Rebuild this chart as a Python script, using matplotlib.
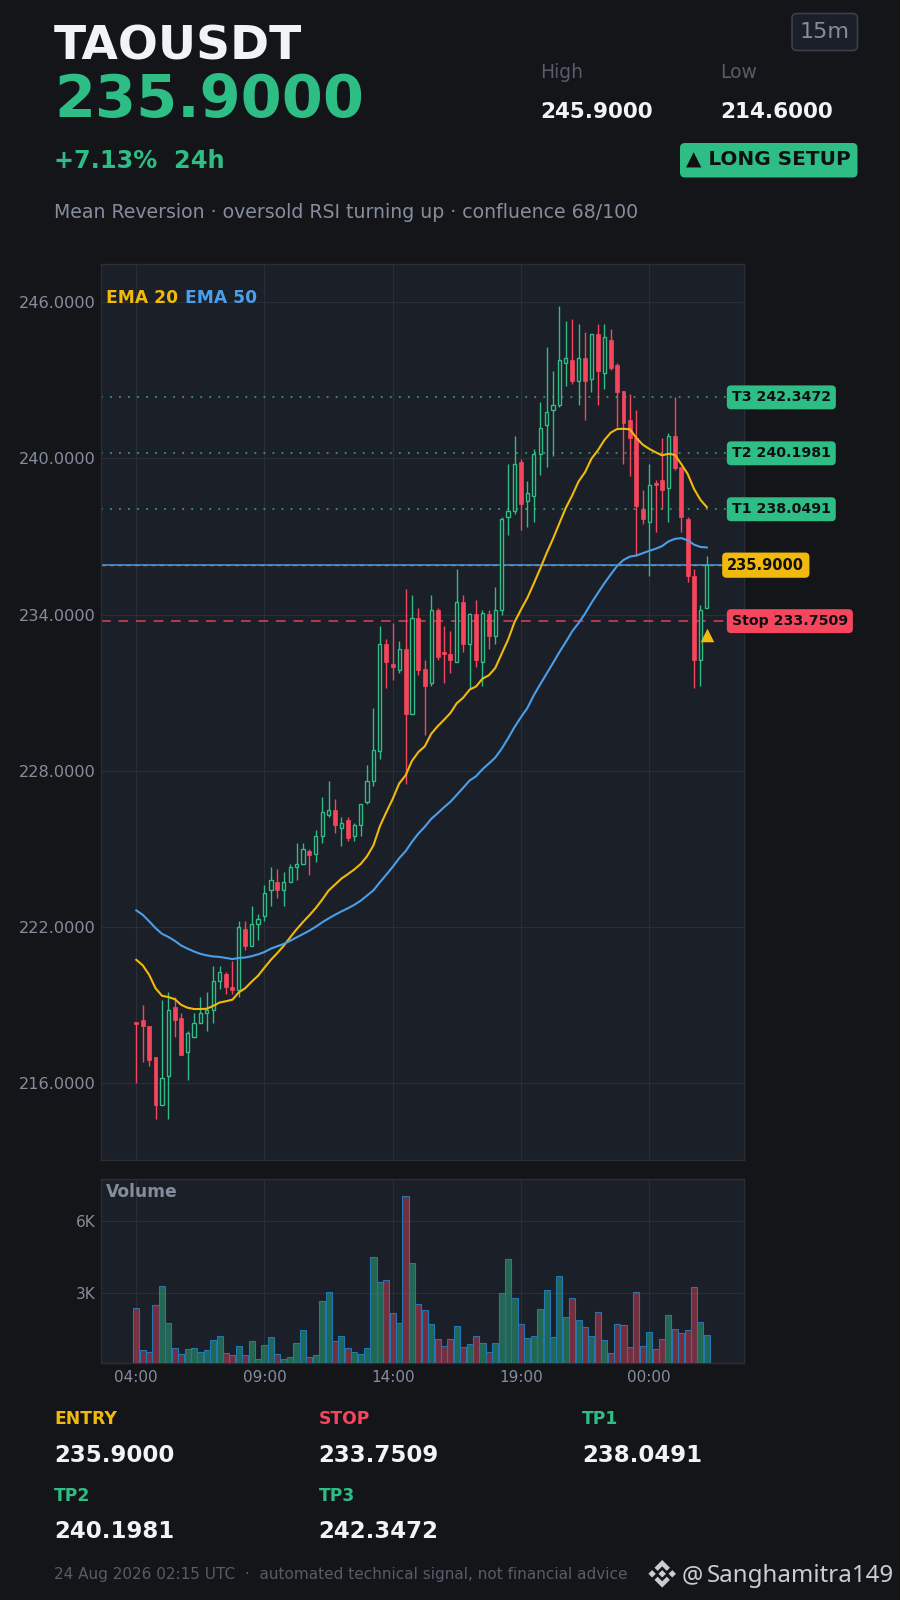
import numpy as np
import matplotlib
matplotlib.use("Agg")
import matplotlib.pyplot as plt
from matplotlib.patches import FancyBboxPatch, Polygon

# Candles, 15m, oldest first
opens = [218.31, 218.44, 218.21, 217.00, 215.18, 216.29, 218.94, 218.51, 217.19, 217.79,
         218.31, 218.69, 218.81, 219.92, 220.21, 219.69, 219.59, 221.92, 221.29, 222.12,
         222.41, 223.42, 223.74, 223.41, 223.73, 224.29, 224.42, 224.92, 224.81, 225.50,
         226.29, 226.50, 225.81, 226.12, 225.50, 225.92, 226.81, 227.62, 228.77, 232.88,
         232.09, 231.88, 232.69, 230.18, 233.88, 231.90, 231.37, 234.19, 232.50, 232.50,
         232.18, 234.50, 232.88, 234.01, 232.18, 234.01, 233.18, 234.19, 237.74, 237.99,
         239.87, 238.36, 238.55, 240.18, 241.28, 241.87, 242.05, 243.67, 243.79, 242.97,
         243.87, 243.05, 244.79, 243.29, 244.56, 243.58, 242.58, 241.49, 240.79, 238.05,
         237.56, 239.00, 239.18, 238.87, 240.88, 239.69, 237.68, 235.49, 232.24, 234.24]
closes = [218.26, 218.18, 216.90, 215.17, 216.19, 218.81, 218.41, 217.09, 217.92, 218.31,
          218.69, 218.82, 219.91, 220.29, 219.68, 219.59, 222.00, 221.29, 222.12, 222.31,
          223.31, 223.81, 223.41, 223.73, 224.31, 224.42, 225.00, 224.78, 225.49, 226.42,
          226.49, 225.91, 226.00, 225.41, 225.92, 226.73, 227.60, 228.81, 232.88, 232.18,
          231.99, 232.69, 230.18, 233.88, 231.86, 231.26, 234.19, 232.36, 232.47, 232.24,
          234.50, 232.87, 234.01, 232.24, 234.08, 233.18, 234.19, 237.68, 237.99, 239.79,
          238.24, 238.68, 240.18, 241.18, 241.79, 242.06, 243.79, 243.87, 242.97, 243.87,
          242.97, 244.79, 243.36, 244.68, 243.47, 242.55, 241.36, 240.79, 238.17, 237.67,
          238.99, 238.97, 238.78, 240.88, 239.65, 237.74, 235.47, 232.24, 234.18, 235.90]
highs = [218.31, 218.99, 218.21, 217.00, 219.18, 219.50, 219.31, 218.69, 217.99, 218.69,
         219.31, 219.49, 220.49, 220.49, 220.29, 220.68, 222.22, 222.22, 222.79, 222.50,
         223.60, 224.31, 224.23, 224.10, 224.42, 225.23, 225.23, 225.00, 225.73, 227.00,
         227.60, 226.92, 226.23, 226.23, 226.00, 226.73, 228.22, 230.42, 233.56, 233.05,
         233.68, 232.99, 235.00, 234.77, 234.27, 232.27, 234.77, 234.27, 233.56, 233.37,
         235.77, 234.77, 234.08, 234.58, 234.19, 234.19, 235.06, 237.74, 239.78, 240.85,
         239.99, 239.15, 240.37, 242.17, 244.28, 243.36, 245.86, 245.28, 245.36, 245.17,
         244.86, 244.79, 245.17, 245.17, 244.99, 243.68, 242.58, 242.49, 241.87, 238.79,
         239.79, 239.19, 240.78, 240.99, 242.36, 239.69, 237.74, 235.76, 234.38, 236.24]
lows = [216.00, 216.81, 216.68, 214.62, 215.18, 214.62, 217.79, 217.09, 216.13, 217.79,
        218.31, 217.99, 218.31, 219.62, 219.42, 219.42, 219.31, 221.10, 221.29, 221.49,
        222.22, 222.79, 223.12, 222.79, 223.73, 223.81, 224.42, 224.00, 224.50, 225.23,
        226.23, 225.62, 225.12, 225.31, 225.31, 225.50, 226.73, 227.41, 228.46, 231.19,
        231.50, 231.76, 227.50, 230.18, 231.69, 229.38, 231.27, 232.27, 231.38, 231.77,
        232.18, 232.56, 231.15, 231.99, 231.27, 232.69, 232.88, 234.00, 237.06, 237.87,
        237.26, 237.38, 237.56, 239.37, 239.69, 240.08, 241.97, 242.79, 242.87, 242.06,
        241.49, 242.55, 242.06, 242.68, 243.38, 241.20, 239.80, 239.31, 236.27, 237.49,
        235.49, 237.18, 238.06, 237.56, 239.56, 237.17, 235.24, 231.18, 231.24, 234.24]
ema20 = [220.74, 220.53, 220.17, 219.65, 219.36, 219.31, 219.23, 219.01, 218.90, 218.85,
         218.85, 218.86, 218.97, 219.10, 219.15, 219.21, 219.49, 219.65, 219.90, 220.13,
         220.44, 220.74, 221.00, 221.28, 221.60, 221.91, 222.19, 222.45, 222.73, 223.05,
         223.40, 223.63, 223.86, 224.03, 224.21, 224.42, 224.72, 225.14, 225.87, 226.41,
         226.92, 227.51, 227.82, 228.38, 228.72, 228.94, 229.42, 229.71, 229.96, 230.22,
         230.60, 230.81, 231.12, 231.24, 231.54, 231.67, 231.95, 232.50, 233.04, 233.71,
         234.19, 234.64, 235.19, 235.76, 236.36, 236.91, 237.51, 238.10, 238.58, 239.12,
         239.47, 239.99, 240.31, 240.70, 240.99, 241.13, 241.14, 241.12, 240.79, 240.53,
         240.37, 240.24, 240.12, 240.18, 240.14, 239.79, 239.41, 238.83, 238.41, 238.13]
ema50 = [222.64, 222.47, 222.22, 221.96, 221.74, 221.62, 221.47, 221.29, 221.17, 221.06,
         220.97, 220.91, 220.87, 220.85, 220.81, 220.77, 220.81, 220.83, 220.88, 220.95,
         221.04, 221.17, 221.26, 221.35, 221.47, 221.60, 221.73, 221.86, 222.01, 222.18,
         222.33, 222.47, 222.60, 222.72, 222.85, 223.01, 223.21, 223.41, 223.72, 224.01,
         224.31, 224.64, 224.91, 225.27, 225.59, 225.85, 226.15, 226.37, 226.60, 226.81,
         227.08, 227.35, 227.63, 227.79, 228.06, 228.28, 228.51, 228.85, 229.25, 229.68,
         230.06, 230.41, 230.90, 231.32, 231.73, 232.14, 232.56, 232.95, 233.36, 233.68,
         234.04, 234.45, 234.83, 235.20, 235.54, 235.87, 236.10, 236.23, 236.27, 236.36,
         236.45, 236.53, 236.63, 236.81, 236.91, 236.94, 236.86, 236.69, 236.60, 236.58]
volumes = [2375, 625, 542, 2500, 3292, 1750, 708, 458, 667, 708,
           542, 625, 1042, 1208, 500, 417, 792, 417, 1000, 250,
           833, 1167, 458, 250, 333, 917, 1458, 333, 417, 2667,
           3042, 1000, 1208, 708, 542, 458, 708, 4500, 3458, 3542,
           2167, 1750, 7042, 4250, 2542, 2292, 1708, 1083, 792, 1083,
           1625, 750, 875, 1208, 917, 542, 917, 3000, 4417, 2792,
           1708, 1125, 1208, 2333, 3125, 1167, 3708, 2000, 2792, 1875,
           1583, 1208, 2208, 1042, 500, 1708, 1667, 750, 3042, 792,
           1375, 667, 1083, 2083, 1500, 1333, 1458, 3250, 1792, 1250]

time_ticks = [0, 20, 40, 60, 80]
time_labels = ["04:00", "09:00", "14:00", "19:00", "00:00"]
price_ticks = [216, 222, 228, 234, 240, 246]
vol_ticks = [3000, 6000]
vol_labels = ["3K", "6K"]

entry = 235.9
stop = 233.7509
targets = [238.0491, 240.1981, 242.3472]
entry_marker_price = 233.2

BG = "#131519"
PANEL = "#1b1f27"
GRID = "#2a2e37"
GREEN = "#2ebd85"
RED = "#f6465d"
YELLOW = "#f0b90b"
BLUE = "#4a9eea"
MUTED = "#858d9c"
DIM = "#565c69"
DARK = "#0e1013"
WHITE = "#f2f3f6"


def px_axes(fig, left, top, right, bottom):
    """Axes placed by pixel edges of the 900x1600 canvas."""
    return fig.add_axes([left / 900, 1 - bottom / 1600, (right - left) / 900, (bottom - top) / 1600])


def style_panel(ax):
    ax.set_facecolor(PANEL)
    ax.grid(True, color=GRID, linewidth=0.9)
    ax.set_axisbelow(True)
    ax.tick_params(length=0, colors=MUTED, labelsize=11)
    ax.tick_params(axis="y", labelsize=11.6, pad=3.5)
    for spine in ax.spines.values():
        spine.set_color(GRID)
        spine.set_linewidth(1.0)


def rounded_box(ax, x0, y0, x1, y1, face, edge="none"):
    ax.add_patch(FancyBboxPatch((x0 + 5, y0 + 5), x1 - x0 - 10, y1 - y0 - 10,
                                boxstyle="round,pad=5,rounding_size=5", fc=face, ec=edge, lw=1.2))


def draw_logo(ax, cx, cy, r, color):
    # diamond mark next to the handle, scaled around its centre
    shapes = [
        [(0, -1), (0.56, -0.44), (0.33, -0.21), (0, -0.54), (-0.33, -0.21), (-0.56, -0.44)],
        [(0, 1), (0.56, 0.44), (0.33, 0.21), (0, 0.54), (-0.33, 0.21), (-0.56, 0.44)],
        [(-1, 0), (-0.73, -0.27), (-0.46, 0), (-0.73, 0.27)],
        [(1, 0), (0.73, -0.27), (0.46, 0), (0.73, 0.27)],
        [(0, -0.27), (0.27, 0), (0, 0.27), (-0.27, 0)],
    ]
    for pts in shapes:
        ax.add_patch(Polygon([(cx + r * a, cy + r * b) for a, b in pts], fc=color, ec="none"))


fig = plt.figure(figsize=(9, 16), dpi=100, facecolor=BG)
x = np.arange(len(closes))
o, h, l, c = map(np.array, (opens, highs, lows, closes))
up = c >= o

# Price panel
ax = px_axes(fig, 100.5, 264, 743.7, 1160)
style_panel(ax)
ax.set_xlim(-5.58, 94.75)
ax.set_ylim(213.05, 247.47)
ax.set_yticks(price_ticks)
ax.set_yticklabels([f"{p:.4f}" for p in price_ticks])
ax.set_xticks(time_ticks)
ax.tick_params(axis="x", labelbottom=False)

ax.vlines(x[up], l[up], h[up], color=GREEN, linewidth=1.0, zorder=2)
ax.vlines(x[~up], l[~up], h[~up], color=RED, linewidth=1.0, zorder=2)
body_up = np.maximum(c[up] - o[up], 0.04)
body_dn = np.maximum(o[~up] - c[~up], 0.1)
ax.bar(x[up], body_up, bottom=o[up], width=0.5, facecolor=PANEL, edgecolor=GREEN, linewidth=1.0, zorder=3)
ax.bar(x[~up], body_dn, bottom=c[~up], width=0.62, facecolor=RED, edgecolor=RED, linewidth=0.5, zorder=3)

ax.plot(x, ema20, color=YELLOW, linewidth=1.5, zorder=4)
ax.plot(x, ema50, color=BLUE, linewidth=1.5, zorder=4)

for t in targets:
    ax.axhline(t, color=GREEN, linestyle=(0, (1, 4)), linewidth=1.3, alpha=0.8, zorder=2)
ax.axhline(stop, color=RED, linestyle=(0, (5, 4)), linewidth=1.4, alpha=0.7, zorder=2)
ax.axhline(entry, color=YELLOW, linestyle=(0, (3, 3)), linewidth=1.0, alpha=0.6, zorder=2)
ax.axhline(entry, color=BLUE, linewidth=1.4, alpha=0.75, zorder=2)
ax.scatter([x[-1]], [entry_marker_price], marker="^", s=95, color=YELLOW, linewidths=0, zorder=6)

tag_tf = ax.get_yaxis_transform()
tag_style = dict(transform=tag_tf, va="center", ha="left", fontsize=10.2, fontweight="bold",
                 color=DARK, clip_on=False, zorder=8)
for i, t in enumerate(targets):
    ax.text(0.9815, t, f"T{i + 1} {t:.4f}",
            bbox=dict(boxstyle="round,pad=0.35,rounding_size=0.3", fc=GREEN, ec="none"), **tag_style)
ax.text(0.9815, stop, f"Stop {stop:.4f}",
        bbox=dict(boxstyle="round,pad=0.35,rounding_size=0.3", fc=RED, ec="none"), **tag_style)
ax.text(0.9745, entry, f"{entry:.4f}",
        bbox=dict(boxstyle="round,pad=0.35,rounding_size=0.3", fc=YELLOW, ec="none"),
        **{**tag_style, "fontsize": 10.5})

# Volume panel
vax = px_axes(fig, 100.5, 1179, 743.7, 1363.3)
style_panel(vax)
vax.set_xlim(-5.58, 94.75)
vax.set_ylim(83, 7750)
vax.set_xticks(time_ticks)
vax.set_xticklabels(time_labels)
vax.set_yticks(vol_ticks)
vax.set_yticklabels(vol_labels)
vax.tick_params(axis="x", pad=5)
vax.tick_params(axis="y", labelsize=11)
vol_colors = [(0.18, 0.74, 0.52, 0.45) if u else (0.96, 0.27, 0.36, 0.42) for u in up]
vax.bar(x, volumes, width=0.95, color=vol_colors, edgecolor="#1f77b4", linewidth=0.8, zorder=3)

# Text overlay in canvas pixels
ov = fig.add_axes([0, 0, 1, 1], zorder=10)
ov.set_xlim(0, 900)
ov.set_ylim(1600, 0)
ov.axis("off")
ov.patch.set_alpha(0)


def label(px, py, s, size, color, weight="normal", ha="left", va="baseline", **kw):
    ov.text(px, py, s, fontsize=size, color=color, fontweight=weight, ha=ha, va=va, **kw)


label(54, 59.5, "TAOUSDT", 33.8, WHITE, "bold")
label(54, 117.5, "235.9000", 42.5, GREEN, "bold")
label(54, 168, "+7.13%  24h", 17.3, GREEN, "bold")
label(54, 218, "Mean Reversion · oversold RSI turning up · confluence 68/100", 13.6, MUTED)
label(540.5, 78, "High", 13.5, DIM)
label(720, 78, "Low", 13.5, DIM)
label(540.5, 118.5, "245.9000", 15.5, WHITE, "bold")
label(720, 118.5, "214.6000", 15.5, WHITE, "bold")

rounded_box(ov, 792, 13.5, 857.5, 50.5, PANEL, "#3a404c")
label(824.7, 32, "15m", 16, MUTED, ha="center", va="center")
rounded_box(ov, 680, 143, 857.5, 177.5, GREEN)
label(768.7, 159.5, "▲ LONG SETUP", 14.4, DARK, "bold", ha="center", va="center")

label(106, 303.3, "EMA 20", 12.3, YELLOW, "bold")
label(185, 303.3, "EMA 50", 12.3, BLUE, "bold")
label(106, 1197.3, "Volume", 12.3, MUTED, "bold")

cards = [("ENTRY", "235.9000", YELLOW, 54, 1424.3), ("STOP", "233.7509", RED, 318.5, 1424.3),
         ("TP1", "238.0491", GREEN, 582, 1424.3), ("TP2", "240.1981", GREEN, 54, 1501),
         ("TP3", "242.3472", GREEN, 318.5, 1501)]
for name, value, col, cx, cy in cards:
    label(cx, cy, name, 12.3, col, "bold")
    label(cx, cy + 37.5, value, 16.5, WHITE, "bold")

label(54, 1579, "24 Aug 2026 02:15 UTC  ·  automated technical signal, not financial advice", 10.95, DIM)
draw_logo(ov, 662.2, 1573.8, 13.8, "#c9ccd1")
label(681.5, 1582, "@", 17, "#c9ccd1", family="Noto Sans")
label(706.5, 1582, "Sanghamitra149", 17.3, "#c9ccd1", family="Noto Sans")

fig.savefig("out.png", dpi=100, facecolor=BG)
